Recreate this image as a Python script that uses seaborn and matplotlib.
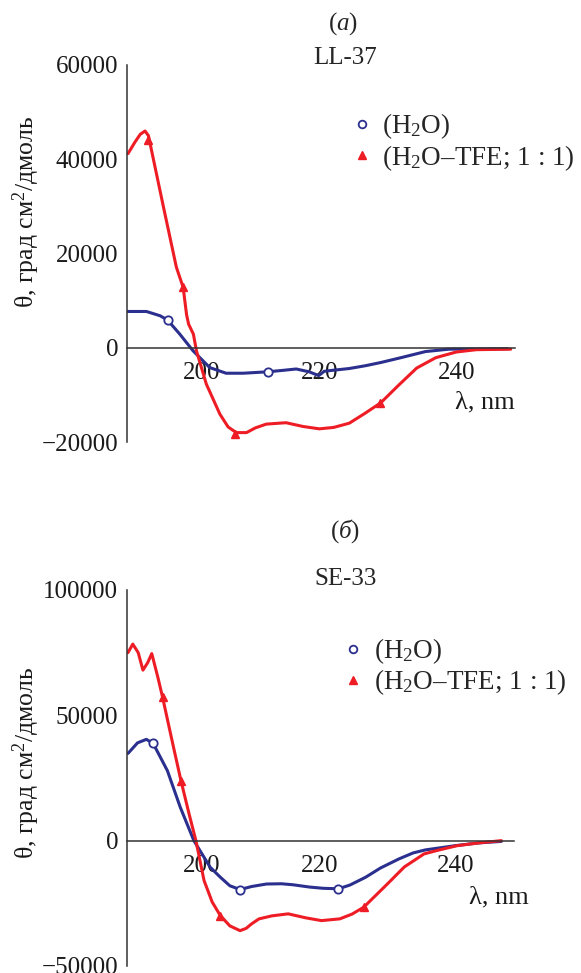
import numpy as np
import pandas as pd
import seaborn as sns
import matplotlib.pyplot as plt
import matplotlib.transforms as mtransforms
from matplotlib.lines import Line2D

# CD spectra (lambda in nm, theta in deg cm2/dmol)
# panel (a) LL-37
ll_h2o_nm = [191.8, 194.5, 196.5, 197.6, 199.4, 201.35, 203.8, 206.2, 208.7, 212.3, 214.5, 216.5,
             218.4, 219.8, 220.6, 221.1, 224.3, 226.7, 229.0, 231.6, 235.5, 238.9, 247.5]
ll_h2o_val = [7700, 7700, 6800, 5900, 2900, -640, -4200, -5400, -5400, -5100, -4800, -4500,
              -5100, -5900, -5000, -4900, -4400, -3800, -3100, -2200, -800, -300, -200]
ll_tfe_nm = [191.8, 192.8, 193.6, 194.3, 194.8, 197.0, 198.9, 199.9, 200.4, 200.7, 201.4, 201.85, 203.3,
             205.3, 206.5, 207.7, 209.2, 210.5, 212.1, 215.0, 217.5, 219.9, 222.0, 224.3, 226.5,
             228.9, 231.5, 234.2, 237.0, 240.0, 243.0, 248.0]
ll_tfe_val = [41200, 43600, 45300, 46000, 45000, 29900, 17100, 12800, 7000, 5000, 2900, -640, -7700,
              -14100, -16800, -18000, -18000, -17000, -16200, -15900, -16700, -17200, -16900, -16000, -14000,
              -11700, -8000, -4300, -2100, -900, -400, -300]
ll_h2o_mk_nm = [197.6, 212.3]
ll_h2o_mk_val = [5900, -5100]
ll_tfe_mk_nm = [194.8, 199.9, 207.5, 228.8]
ll_tfe_mk_val = [44000, 12800, -18200, -11800]

# panel (b) SE-33
se_h2o_nm = [191.8, 193.2, 194.5, 195.5, 197.6, 199.5, 201.5, 203.9, 205.4, 206.8, 208.3, 210.0,
             212.2, 214.4, 216.1, 218.5, 220.5, 222.8, 224.5, 226.8, 229.0, 231.7, 233.8, 235.6,
             240.0, 243.5, 246.8]
se_h2o_val = [34800, 39000, 40400, 38800, 27900, 13300, 0, -10600, -14600, -18000, -19500, -18300,
              -17300, -17200, -17600, -18500, -19000, -19200, -17700, -14600, -10900, -7300, -4900, -3700,
              -2000, -900, -300]
se_tfe_nm = [191.8, 192.5, 193.3, 194.0, 194.7, 195.3, 196.2, 196.9, 198.4, 199.6, 200.8, 201.8,
             203.0, 204.2, 205.4, 206.8, 208.3, 209.2, 210.0, 211.1, 213.0, 215.4, 218.0, 220.3,
             223.0, 224.8, 226.5, 230.0, 232.5, 235.4, 237.5, 240.3, 243.5, 246.8]
se_tfe_val = [75000, 78400, 75000, 68000, 71000, 74600, 65100, 57100, 38500, 23900, 10600, 0,
              -15900, -24500, -29900, -34000, -35900, -35000, -33200, -31200, -30000, -29200, -30800, -31900,
              -31200, -29300, -26600, -17300, -10500, -5300, -3800, -2000, -900, 0]
se_h2o_mk_nm = [195.5, 208.3, 222.8]
se_h2o_mk_val = [38800, -19500, -19200]
se_tfe_mk_nm = [196.9, 199.6, 205.4, 226.5]
se_tfe_mk_val = [57100, 23900, -29900, -26600]

x_ticks = [200, 220, 240]
ll_yticks = [-20000, 0, 20000, 40000, 60000]
se_yticks = [-50000, 0, 50000, 100000]

BLUE = '#2b2f8e'
RED = '#ee1d25'

sns.set_theme(style='white')
plt.rcParams['font.family'] = ['Liberation Serif', 'DejaVu Serif']
plt.rcParams['mathtext.fontset'] = 'custom'
plt.rcParams['mathtext.rm'] = 'Liberation Serif'
plt.rcParams['mathtext.it'] = 'Liberation Serif:italic'
plt.rcParams['axes.unicode_minus'] = True

fig = plt.figure(figsize=(5.81, 9.73), dpi=100)
ax1 = fig.add_axes([0.218, 0.5457, 0.668, 0.3875])
ax2 = fig.add_axes([0.218, 0.0072, 0.666, 0.3865])

FS = 18


def draw_panel(ax, h_nm, h_val, t_nm, t_val, hm_nm, hm_val, tm_nm, tm_val, yticks, ylim, ylab_y):
    sns.lineplot(x=h_nm, y=h_val, ax=ax, color=BLUE, lw=2.2, sort=False, estimator=None)
    sns.lineplot(x=t_nm, y=t_val, ax=ax, color=RED, lw=2.2, sort=False, estimator=None)
    ax.plot(hm_nm, hm_val, ls='none', marker='o', ms=6, mfc='white', mec=BLUE, mew=1.3, zorder=5)
    ax.plot(tm_nm, tm_val, ls='none', marker='^', ms=5.5, color=RED, zorder=5)

    ax.set_xlim(191.6, 248.6)
    ax.set_ylim(*ylim)
    for s in ['top', 'right']:
        ax.spines[s].set_visible(False)
    ax.spines['bottom'].set_position(('data', 0))
    for s in ['left', 'bottom']:
        ax.spines[s].set_color('#333333')
        ax.spines[s].set_linewidth(1.1)

    ax.set_xticks(x_ticks)
    ax.set_yticks(yticks)
    ax.set_yticklabels([str(v).replace('-', '\u2212') for v in yticks])
    ax.tick_params(axis='both', direction='in', length=8, width=1.1, color='#333333',
                   labelsize=FS, labelcolor='#1a1a1a')
    ax.tick_params(axis='y', pad=6)
    ax.tick_params(axis='x', pad=10)
    ax.xaxis.get_major_ticks()[0].tick1line.set_visible(False)
    # the "200" label sits a bit right of its nominal place in the original
    lab = ax.xaxis.get_major_ticks()[0].label1
    lab.set_transform(lab.get_transform() + mtransforms.ScaledTranslation(18 / 100, 0, fig.dpi_scale_trans))
    ax.set_xlabel('')
    ax.set_ylabel('\u03b8, град см$^\\mathregular{2}$/дмоль', fontsize=FS + 0.5, color='#1a1a1a')
    ax.yaxis.set_label_coords(-0.218, ylab_y)


draw_panel(ax1, ll_h2o_nm, ll_h2o_val, ll_tfe_nm, ll_tfe_val,
           ll_h2o_mk_nm, ll_h2o_mk_val, ll_tfe_mk_nm, ll_tfe_mk_val, ll_yticks, (-20000, 60000), 0.61)
draw_panel(ax2, se_h2o_nm, se_h2o_val, se_tfe_nm, se_tfe_val,
           se_h2o_mk_nm, se_h2o_mk_val, se_tfe_mk_nm, se_tfe_mk_val, se_yticks, (-50000, 100000), 0.54)

ax1.text(1.0, 0.105, '\u03bb, nm', transform=ax1.transAxes, ha='right', va='center', fontsize=FS + 1, color='#1a1a1a')
ax2.text(1.04, 0.183, '\u03bb, nm', transform=ax2.transAxes, ha='right', va='center', fontsize=FS + 1, color='#1a1a1a')

ax1.text(0.557, 1.111, '($\\mathit{a}$)', transform=ax1.transAxes, ha='center', va='center', fontsize=FS)
ax1.text(0.562, 1.019, 'LL-37', transform=ax1.transAxes, ha='center', va='center', fontsize=FS)
ax2.text(0.565, 1.156, '($\\mathit{б}$)', transform=ax2.transAxes, ha='center', va='center', fontsize=FS)
ax2.text(0.565, 1.029, 'SE-33', transform=ax2.transAxes, ha='center', va='center', fontsize=FS)

handles = [Line2D([], [], ls='none', marker='o', ms=5.5, mfc='white', mec=BLUE, mew=1.3),
           Line2D([], [], ls='none', marker='^', ms=5.5, color=RED)]
labels = ['(H$_\\mathregular{2}$O)', '(H$_\\mathregular{2}$O\u2013TFE; 1 : 1)']
for ax, anchor in [(ax1, (0.55, 0.905)), (ax2, (0.53, 0.905))]:
    ax.legend(handles, labels, loc='upper left', bbox_to_anchor=anchor, frameon=False,
              fontsize=FS + 1.5, handlelength=0.8, handletextpad=0.35, labelspacing=0.05, borderaxespad=0)

fig.savefig('out.png', dpi=100)
